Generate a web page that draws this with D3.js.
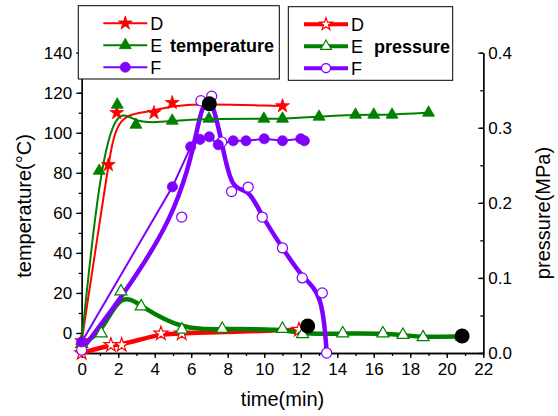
<!DOCTYPE html>
<html>
<head>
<meta charset="utf-8">
<script src="https://cdn.jsdelivr.net/npm/d3@7"></script>
<style>
  body { margin: 0; background: #fff; }
  svg { font-family: "Liberation Sans", Arial, sans-serif; }
  .axis path, .axis line { stroke: #000; stroke-width: 1.3; }
  .axis text { font-size: 17px; fill: #000; }
</style>
</head>
<body>
<script>
// temperature series (left axis, degC) [time(min), value]
const tempD = [[0, -4], [1.46, 84], [1.92, 110], [3.96, 110], [4.96, 115], [11.0, 113.4]]
const tempE = [[0, -4], [0.96, 81], [1.95, 114], [2.97, 104], [4.96, 106], [6.97, 107], [9.98, 107], [11.0, 107],
  [13.0, 108], [15.0, 109], [16.0, 109], [17.0, 109], [19.0, 110]]
const tempF = [[0, -4.5], [4.97, 73], [5.97, 93], [6.48, 96.7], [6.99, 98], [7.48, 94], [8.3, 96], [9.0, 96],
  [10.0, 97], [11.0, 96], [12.0, 97], [12.2, 96]]

// pressure series (right axis, MPa)
const presD = [[0, 0.0], [1.6, 0.0107], [2.19, 0.0107], [4.34, 0.026], [5.48, 0.026], [11.9, 0.031]]
const presE = [[0, 0.012], [1.07, 0.026], [2.15, 0.082], [3.26, 0.062], [5.49, 0.031], [7.7, 0.032], [11.0, 0.032],
  [12.1, 0.025], [14.3, 0.026], [16.5, 0.026], [17.6, 0.024], [18.7, 0.021], [20.8, 0.022]]
const presF = [[0, 0.004], [5.48, 0.181], [6.53, 0.336], [7.12, 0.342], [7.67, 0.281], [8.21, 0.215], [9.12, 0.221],
  [9.89, 0.181], [11.0, 0.140], [12.08, 0.100], [13.18, 0.080], [13.42, 0.0]]

// big black dots (on the pressure scale)
const blackDots = [[6.99, 0.332], [12.38, 0.036], [20.84, 0.0226]]

const seriesNames = ['D', 'E', 'F']
const colors = ['#ff0000', '#008000', '#7f00ff']
const xTicks = d3.range(0, 23, 2)
const yTicks = d3.range(0, 141, 20)
const y2Ticks = [0, 0.1, 0.2, 0.3, 0.4]

const width = 558
const height = 416
const margin = {top: 52.7, right: 74.7, bottom: 63, left: 81.7}
const plotW = width - margin.left - margin.right
const plotH = height - margin.top - margin.bottom

const svg = d3.select('body').append('svg')
  .attr('width', width)
  .attr('height', height)

const xScale = d3.scaleLinear().domain([0, 22]).range([margin.left, margin.left + plotW])
const yScale = d3.scaleLinear().domain([-10, 140]).range([margin.top + plotH, margin.top])
const y2Scale = d3.scaleLinear().domain([0, 0.4]).range([margin.top + plotH, margin.top])

const symbols = [d3.symbolStar, d3.symbolTriangle, d3.symbolCircle]
const symbolSizes = [60, 62, 80]

// axes
const xAxis = svg.append('g')
  .attr('class', 'axis')
  .attr('transform', 'translate(0,' + (margin.top + plotH) + ')')
xAxis.call(d3.axisBottom(xScale).tickValues(d3.range(0, 23, 1)).tickSize(3).tickFormat('').tickSizeOuter(0))
xAxis.append('g').call(d3.axisBottom(xScale).tickValues(xTicks).tickSize(5).tickPadding(5).tickSizeOuter(0))

const yAxis = svg.append('g')
  .attr('class', 'axis')
  .attr('transform', 'translate(' + margin.left + ',0)')
yAxis.call(d3.axisLeft(yScale).tickValues(d3.range(-10, 141, 10)).tickSize(3).tickFormat('').tickSizeOuter(0))
yAxis.append('g').call(d3.axisLeft(yScale).tickValues(yTicks).tickSize(5.5).tickPadding(4).tickSizeOuter(0))

const y2Axis = svg.append('g')
  .attr('class', 'axis')
  .attr('transform', 'translate(' + (margin.left + plotW) + ',0)')
y2Axis.call(d3.axisRight(y2Scale).tickValues(d3.range(0, 0.41, 0.05)).tickSize(-3).tickFormat('').tickSizeOuter(0))
y2Axis.append('g').call(d3.axisRight(y2Scale).tickValues(y2Ticks).tickSize(-5).tickPadding(7)
  .tickFormat(d3.format('.1f')).tickSizeOuter(0))
y2Axis.selectAll('text').attr('x', 5)

// axis titles
svg.append('text')
  .attr('x', xScale(11)).attr('y', 406)
  .attr('text-anchor', 'middle')
  .attr('font-size', 20)
  .text('time(min)')

svg.append('text')
  .attr('transform', 'translate(31,206) rotate(-90)')
  .attr('text-anchor', 'middle')
  .attr('font-size', 20)
  .text('temperature(\u00B0C)')

svg.append('text')
  .attr('transform', 'translate(550,213) rotate(-90)')
  .attr('text-anchor', 'middle')
  .attr('font-size', 20)
  .text('pressure(MPa)')

const plot = svg.append('g')

function drawSeries (data, scale, i, lineWidth, curve) {
  const line = d3.line()
    .x(d => xScale(d[0]))
    .y(d => scale(d[1]))
    .curve(curve)
  plot.append('path')
    .datum(data)
    .attr('fill', 'none')
    .attr('stroke', colors[i])
    .attr('stroke-width', lineWidth)
    .attr('stroke-linejoin', 'round')
    .attr('d', line)
}

function drawMarkers (data, scale, i, filled) {
  plot.append('g').selectAll('path')
    .data(data)
    .enter().append('path')
    .attr('transform', d => 'translate(' + xScale(d[0]) + ',' + scale(d[1]) + ')')
    .attr('d', d3.symbol().type(symbols[i]).size(symbolSizes[i]))
    .attr('fill', filled ? colors[i] : '#fff')
    .attr('stroke', colors[i])
    .attr('stroke-width', filled ? 0.8 : 1.2)
}

const temps = [tempD, tempE, tempF]
const pres = [presD, presE, presF]
const tempCurves = [d3.curveBasis, d3.curveBasis, d3.curveLinear]

pres.forEach((s, i) => drawSeries(s, y2Scale, i, 4.5, d3.curveBasis))
temps.forEach((s, i) => drawSeries(s, yScale, i, 2, tempCurves[i]))
pres.forEach((s, i) => drawMarkers(s, y2Scale, i, false))
temps.forEach((s, i) => drawMarkers(s, yScale, i, true))

plot.append('g').selectAll('circle')
  .data(blackDots)
  .enter().append('circle')
  .attr('cx', d => xScale(d[0]))
  .attr('cy', d => y2Scale(d[1]))
  .attr('r', 7.5)
  .attr('fill', '#000')

// legends
function drawLegend (x0, y0, w, h, title, filled, lineWidth, lineX, titleX) {
  const g = svg.append('g')
  g.append('rect')
    .attr('x', x0).attr('y', y0).attr('width', w).attr('height', h)
    .attr('fill', '#fff').attr('stroke', '#000').attr('stroke-width', 1)
  seriesNames.forEach((name, i) => {
    const yy = y0 + 17.5 + i * 22
    g.append('line')
      .attr('x1', lineX).attr('x2', lineX + 44)
      .attr('y1', yy).attr('y2', yy)
      .attr('stroke', colors[i]).attr('stroke-width', lineWidth)
    g.append('path')
      .attr('transform', 'translate(' + (lineX + 22) + ',' + yy + ')')
      .attr('d', d3.symbol().type(symbols[i]).size(symbolSizes[i] * (filled ? 1 : 0.8)))
      .attr('fill', filled ? colors[i] : '#fff')
      .attr('stroke', colors[i])
      .attr('stroke-width', filled ? 0.8 : 1.2)
    g.append('text')
      .attr('x', lineX + 47).attr('y', yy + 6.5)
      .attr('font-size', 18)
      .text(name)
  })
  g.append('text')
    .attr('x', titleX).attr('y', y0 + 46)
    .attr('font-size', 18)
    .attr('font-weight', 'bold')
    .text(title)
}

drawLegend(78.3, 5.7, 201, 73.3, 'temperature', true, 2, 103.3, 170)
drawLegend(288.3, 6.7, 164.4, 73.6, 'pressure', false, 4, 304, 374)
</script>
</body>
</html>
